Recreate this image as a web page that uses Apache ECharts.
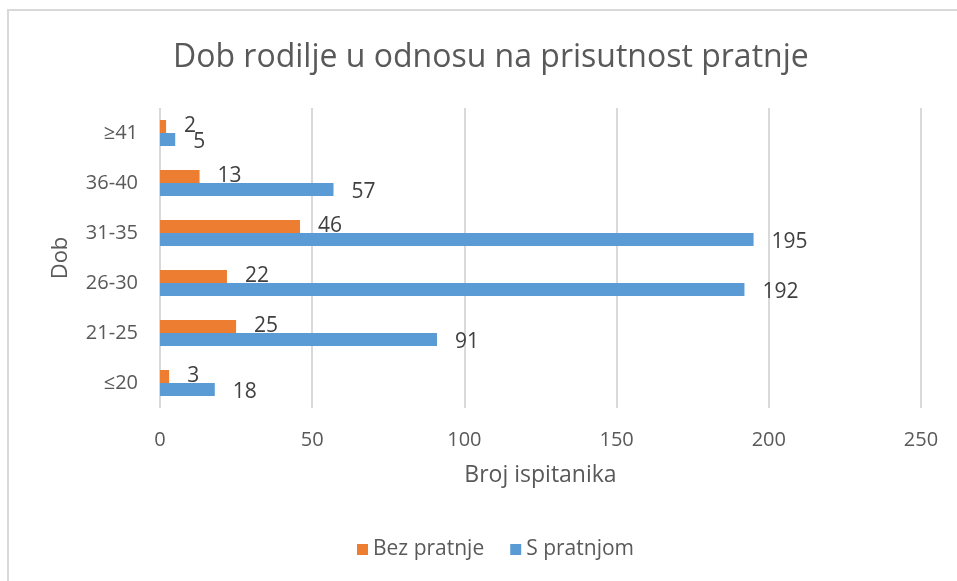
<!DOCTYPE html>
<html>
<head>
<meta charset="utf-8">
<script src="https://cdn.jsdelivr.net/npm/echarts@6/dist/echarts.min.js"></script>
<style>
  html, body { margin: 0; padding: 0; background: #fff; }
  #chart { width: 957px; height: 581px; }
</style>
</head>
<body>
<div id="chart"></div>
<script>
// podaci
var kategorije = ['≤20', '21-25', '26-30', '31-35', '36-40', '≥41'];
var bezPratnje = [3, 25, 22, 46, 13, 2];
var sPratnjom = [18, 91, 192, 195, 57, 5];
var nazivi = ['Bez pratnje', 'S pratnjom'];

var font = 'Open Sans';
var myChart = echarts.init(document.getElementById('chart'));

function serija(ime, podaci, boja, pomak) {
  return {
    name: ime,
    type: 'bar',
    data: podaci,
    barWidth: 13,
    barGap: '0%',
    itemStyle: { color: boja },
    label: {
      show: true,
      position: 'right',
      distance: 18,
      offset: [0, pomak],
      color: '#404040',
      fontSize: 21,
      fontFamily: font
    }
  };
}

var option = {
  backgroundColor: '#fff',
  animation: false,
  title: {
    text: 'Dob rodilje u odnosu na prisutnost pratnje',
    left: 168,
    top: 37,
    textStyle: { color: '#595959', fontSize: 32, fontWeight: 'normal', fontFamily: font }
  },
  legend: {
    data: nazivi,
    bottom: 16,
    left: 352,
    itemWidth: 11,
    itemHeight: 11,
    itemGap: 26,
    icon: 'rect',
    textStyle: { color: '#595959', fontSize: 21, fontFamily: font }
  },
  grid: { left: 160, right: 36, top: 108, height: 300, containLabel: false },
  xAxis: {
    type: 'value',
    min: 0,
    max: 250,
    interval: 50,
    name: 'Broj ispitanika',
    nameLocation: 'middle',
    nameGap: 56,
    nameTextStyle: { color: '#595959', fontSize: 23, fontFamily: font },
    axisLine: { show: false },
    axisTick: { show: false },
    axisLabel: { color: '#595959', fontSize: 20, fontFamily: font, margin: 22 },
    splitLine: { show: true, lineStyle: { color: '#d9d9d9', width: 2 } }
  },
  yAxis: {
    type: 'category',
    data: kategorije,
    name: 'Dob',
    nameLocation: 'middle',
    nameGap: 88,
    nameRotate: 90,
    nameTextStyle: { color: '#595959', fontSize: 22, fontFamily: font },
    axisLine: { show: false },
    axisTick: { show: false },
    axisLabel: { color: '#595959', fontSize: 20, fontFamily: font, margin: 22 }
  },
  graphic: [{
    type: 'rect',
    shape: { x: 8, y: 10, width: 1000, height: 700 },
    style: { fill: 'none', stroke: '#d9d9d9', lineWidth: 2 },
    silent: true
  }],
  series: [
    serija(nazivi[0], bezPratnje, '#ED7D31', 0),
    serija(nazivi[1], sPratnjom, '#5B9BD5', 3)
  ]
};
myChart.setOption(option);
</script>
</body>
</html>
